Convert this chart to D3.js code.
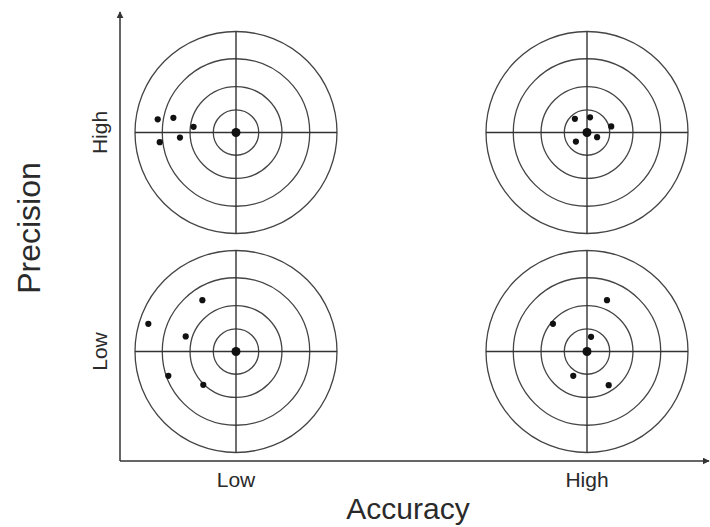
<!DOCTYPE html>
<html>
<head>
<meta charset="utf-8">
<script src="https://cdn.jsdelivr.net/npm/d3@7"></script>
<style>
  body { margin: 0; background: #fff; }
  svg text { font-family: "Liberation Sans", Arial, Helvetica, sans-serif; fill: #2a2a2a; }
</style>
</head>
<body>
<div id="chart"></div>
<script>
// categories
let accuracyLevels = ["Low", "High"];
let precisionLevels = ["Low", "High"];

// ring radii, as fraction of the outer ring
let ringRadii = [0.225, 0.455, 0.73, 1];

// shots, offsets from the bullseye in outer-ring units (y up)
let shotsLowAccHighPrec = [[-0.775, 0.13], [-0.62, 0.145], [-0.42, 0.056], [-0.755, -0.096], [-0.555, -0.05]];
let shotsHighAccHighPrec = [[-0.12, 0.135], [0.03, 0.15], [0.24, 0.06], [-0.11, -0.09], [0.1, -0.046]];
let shotsLowAccLowPrec = [[-0.333, 0.508], [-0.868, 0.274], [-0.498, 0.149], [-0.67, -0.241], [-0.324, -0.33]];
let shotsHighAccLowPrec = [[0.198, 0.508], [-0.337, 0.274], [0.04, 0.145], [-0.136, -0.241], [0.215, -0.333]];

let targets = [
  {accuracy: "Low", precision: "High", shots: shotsLowAccHighPrec},
  {accuracy: "High", precision: "High", shots: shotsHighAccHighPrec},
  {accuracy: "Low", precision: "Low", shots: shotsLowAccLowPrec},
  {accuracy: "High", precision: "Low", shots: shotsHighAccLowPrec}
];

let width = 710, height = 527;
let outerR = 101;
let axisX = 120, axisY = 461;

let svg = d3.select("#chart").append("svg")
    .attr("width", width)
    .attr("height", height);

let defs = svg.append("defs");
defs.append("marker")
    .attr("id", "arrow")
    .attr("viewBox", "0 0 10 10")
    .attr("refX", 9).attr("refY", 5)
    .attr("markerWidth", 7).attr("markerHeight", 7)
    .attr("markerUnits", "userSpaceOnUse")
    .attr("orient", "auto")
  .append("path")
    .attr("d", "M0,0L10,5L0,10Z")
    .attr("fill", "#333");

let xScale = d3.scalePoint().domain(accuracyLevels).range([236, 587]);
let yScale = d3.scalePoint().domain(precisionLevels).range([351.5, 132.5]);

// axes
svg.append("line")
    .attr("x1", axisX).attr("y1", axisY)
    .attr("x2", axisX).attr("y2", 12)
    .attr("stroke", "#333").attr("stroke-width", 1.5)
    .attr("marker-end", "url(#arrow)");
svg.append("line")
    .attr("x1", axisX).attr("y1", axisY)
    .attr("x2", 709).attr("y2", axisY)
    .attr("stroke", "#333").attr("stroke-width", 1.5)
    .attr("marker-end", "url(#arrow)");

// category labels
svg.selectAll(".accLabel").data(accuracyLevels).enter().append("text")
    .attr("class", "accLabel")
    .attr("x", d => xScale(d))
    .attr("y", 487)
    .attr("text-anchor", "middle")
    .attr("font-size", 21)
    .text(d => d);

svg.selectAll(".precLabel").data(precisionLevels).enter().append("text")
    .attr("class", "precLabel")
    .attr("transform", d => "translate(107," + yScale(d) + ") rotate(-90)")
    .attr("text-anchor", "middle")
    .attr("font-size", 21)
    .text(d => d);

// axis titles
svg.append("text")
    .attr("x", 408).attr("y", 519)
    .attr("text-anchor", "middle")
    .attr("font-size", 30)
    .text("Accuracy");
svg.append("text")
    .attr("transform", "translate(40,228) rotate(-90)")
    .attr("text-anchor", "middle")
    .attr("font-size", 32)
    .text("Precision");

// targets
targets.forEach(function(t) {
    let cx = xScale(t.accuracy), cy = yScale(t.precision);
    let sx = d3.scaleLinear().domain([-1, 1]).range([cx - outerR, cx + outerR]);
    let sy = d3.scaleLinear().domain([-1, 1]).range([cy + outerR, cy - outerR]);
    let g = svg.append("g");

    g.selectAll(".ring").data(ringRadii).enter().append("circle")
        .attr("class", "ring")
        .attr("cx", sx(0)).attr("cy", sy(0))
        .attr("r", d => sx(d) - sx(0))
        .attr("fill", "none")
        .attr("stroke", "#444").attr("stroke-width", 1.3);

    g.append("line")
        .attr("x1", sx(-1)).attr("x2", sx(1))
        .attr("y1", sy(0)).attr("y2", sy(0))
        .attr("stroke", "#333").attr("stroke-width", 1.4);
    g.append("line")
        .attr("x1", sx(0)).attr("x2", sx(0))
        .attr("y1", sy(-1)).attr("y2", sy(1))
        .attr("stroke", "#333").attr("stroke-width", 1.4);

    g.append("circle")
        .attr("cx", sx(0)).attr("cy", sy(0))
        .attr("r", 4.5)
        .attr("fill", "#111");

    g.selectAll(".shot").data(t.shots).enter().append("circle")
        .attr("class", "shot")
        .attr("cx", d => sx(d[0]))
        .attr("cy", d => sy(d[1]))
        .attr("r", 3.1)
        .attr("fill", "#111");
});
</script>
</body>
</html>
